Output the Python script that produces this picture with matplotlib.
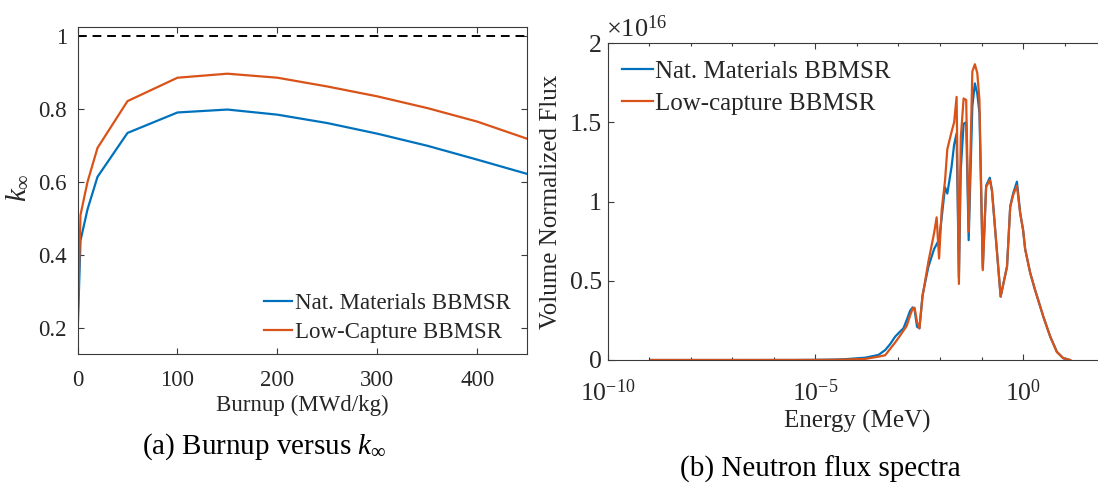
import numpy as np
import matplotlib
matplotlib.use("Agg")
import matplotlib.pyplot as plt
from matplotlib.ticker import FixedLocator, FuncFormatter

# ---- burnup curves ----
burnup = [0, 3, 10, 20, 50, 100, 150, 200, 250, 300, 350, 400, 450]
k_nat = [0.177, 0.44, 0.525, 0.614, 0.734, 0.79, 0.798, 0.784, 0.761, 0.732, 0.699, 0.661, 0.622]
k_low = [0.20, 0.51, 0.60, 0.693, 0.821, 0.885, 0.896, 0.885, 0.861, 0.834, 0.802, 0.765, 0.718]

# ---- neutron flux spectra (energy in MeV, flux in units of 1e16) ----
energy = [1.12e-9, 1e-7, 3.16e-6, 1e-5, 3.16e-5, 5.1e-5, 1.58e-4, 3.3e-4, 4.8e-4,
          6.3e-4, 8.3e-4, 1.1e-3, 1.32e-3, 1.58e-3, 1.9e-3, 2.2e-3, 2.45e-3,
          2.8e-3, 3.2e-3, 3.8e-3, 5.25e-3, 7.2e-3, 8.3e-3, 9.5e-3, 1.1e-2,
          1.32e-2, 1.5e-2, 1.9e-2, 2.19e-2, 2.51e-2, 2.85e-2, 3.16e-2, 3.7e-2,
          4.27e-2, 4.9e-2, 6.0e-2, 6.9e-2, 7.9e-2, 8.9e-2, 0.107, 0.129, 0.158,
          0.178, 0.288, 0.41, 0.49, 0.575, 0.71, 0.85, 1.0, 1.12, 1.48, 1.95,
          3.1, 4.5, 6.5, 9.3, 13.5]
flux_nat = [0, 0, 0.0003, 0.001, 0.003, 0.005, 0.0145, 0.032, 0.063,
            0.10, 0.147, 0.18, 0.20, 0.252, 0.31, 0.332, 0.315,
            0.21, 0.20, 0.41, 0.588, 0.70, 0.73, 0.76, 0.90,
            1.09, 1.05, 1.22, 1.36, 1.43, 0.52, 1.20, 1.49,
            1.50, 0.756, 1.60, 1.745, 1.68, 1.56, 0.58, 1.10, 1.15,
            1.07, 0.40, 0.59, 0.97, 1.05, 1.125, 0.93, 0.82, 0.70, 0.55, 0.44,
            0.27, 0.147, 0.052, 0.011, 0]
flux_low = [0, 0, 0.0001, 0.0005, 0.0015, 0.003, 0.007, 0.021, 0.03,
            0.07, 0.11, 0.155, 0.185, 0.215, 0.28, 0.325, 0.33,
            0.24, 0.20, 0.40, 0.62, 0.80, 0.90, 0.64, 0.95,
            1.13, 1.33, 1.44, 1.50, 1.66, 0.48, 1.40, 1.65,
            1.64, 0.81, 1.82, 1.866, 1.81, 1.64, 0.567, 1.092, 1.135,
            1.07, 0.40, 0.588, 0.966, 1.04, 1.10, 0.925, 0.82, 0.70, 0.55, 0.44,
            0.27, 0.147, 0.05, 0.011, 0]

BLUE = "#0072BD"
ORANGE = "#D95319"
AX_COLOR = "#3a3a3a"
TXT = "#262626"

plt.rcParams["font.family"] = ["Liberation Serif", "DejaVu Serif"]
plt.rcParams["mathtext.fontset"] = "custom"
plt.rcParams["mathtext.rm"] = "Liberation Serif"
plt.rcParams["mathtext.it"] = "Liberation Serif:italic"
plt.rcParams["axes.unicode_minus"] = False

W, H = 1098, 484
fig = plt.figure(figsize=(W / 100, H / 100), dpi=100)


def px_axes(x0, x1, y0, y1):
    return fig.add_axes([x0 / W, 1 - y1 / H, (x1 - x0) / W, (y1 - y0) / H])


def style(ax, fs, xpad, ypad):
    for s in ax.spines.values():
        s.set_color(AX_COLOR)
        s.set_linewidth(0.8)
    ax.tick_params(which="both", direction="in", top=True, right=True,
                   color=AX_COLOR, labelcolor=TXT, labelsize=fs, width=0.8)
    ax.tick_params(which="major", length=4)
    ax.tick_params(which="minor", length=2.2)
    ax.tick_params(axis="x", pad=xpad)
    ax.tick_params(axis="y", pad=ypad)


# ---- (a) burnup versus k_inf ----
ax1 = px_axes(77.5, 527.3, 26.5, 354.3)
ax1.plot(burnup, k_nat, color=BLUE, lw=1.6, label="Nat. Materials BBMSR")
ax1.plot(burnup, k_low, color=ORANGE, lw=1.6, label="Low-Capture BBMSR")
ax1.axhline(1.0, color="black", lw=1.4, ls=(0, (4.5, 3)))
ax1.set_xlim(0, 450)
ax1.set_ylim(0.129, 1.025)
ax1.set_xticks([0, 100, 200, 300, 400])
ax1.set_yticks([0.2, 0.4, 0.6, 0.8, 1.0])
ax1.yaxis.set_major_formatter(FuncFormatter(lambda v, _: "%g" % v))
style(ax1, 16.5, 11, 7.5)
ax1.set_xlabel("Burnup (MWd/kg)", fontsize=16.5, color=TXT, va="center")
ax1.xaxis.set_label_coords(0.5, -(405 - 354.3) / 327.8)
ax1.set_ylabel(r"$k_{\infty}$", fontsize=21, color=TXT, va="center")
ax1.yaxis.set_label_coords((18 - 77.5) / 449.8, (354.3 - 188) / 327.8)
leg1 = ax1.legend(loc="upper left", bbox_to_anchor=(264 / W, 1 - 293 / H),
                  bbox_transform=fig.transFigure, frameon=False, fontsize=16.5,
                  handlelength=1.2, handletextpad=0.15, borderpad=0,
                  borderaxespad=0, labelspacing=0.36)
for t in leg1.get_texts():
    t.set_color(TXT)

# ---- (b) neutron flux spectra ----
ax2 = px_axes(607.6, 1106.2, 43.0, 360.0)
ax2.plot(energy, flux_nat, color=BLUE, lw=1.6, label="Nat. Materials BBMSR")
ax2.plot(energy, flux_low, color=ORANGE, lw=1.6, label="Low-capture BBMSR")
ax2.set_xscale("log")
ax2.set_xlim(1e-10, 1e2)
ax2.set_ylim(0, 2)
ax2.xaxis.set_major_locator(FixedLocator([1e-10, 1e-5, 1e0]))
ax2.xaxis.set_minor_locator(FixedLocator([10.0 ** p for p in range(-10, 3)]))
ax2.xaxis.set_major_formatter(
    FuncFormatter(lambda v, _: r"$\mathregular{10^{%d}}$" % round(np.log10(v))))
ax2.xaxis.set_minor_formatter(FuncFormatter(lambda v, _: ""))
ax2.set_yticks([0, 0.5, 1, 1.5, 2])
ax2.yaxis.set_major_formatter(FuncFormatter(lambda v, _: "%g" % v))
style(ax2, 18.5, 14, 4)
ax2.set_xlabel("Energy (MeV)", fontsize=18, color=TXT, va="center")
ax2.xaxis.set_label_coords(0.5, -(421.7 - 360) / 317)
ax2.set_ylabel("Volume Normalized Flux", fontsize=18, color=TXT, va="center")
ax2.yaxis.set_label_coords((551 - 607.6) / 498.6, (360 - 202) / 317)
fig.text(606 / W, 1 - 29 / H, r"$\times\mathregular{10^{16}}$", fontsize=19,
         color=TXT, ha="left", va="center")
leg2 = ax2.legend(loc="upper left", bbox_to_anchor=(622 / W, 1 - 60 / H),
                  bbox_transform=fig.transFigure, frameon=False, fontsize=18,
                  handlelength=1.25, handletextpad=0.08, borderpad=0,
                  borderaxespad=0, labelspacing=0.4)
for t in leg2.get_texts():
    t.set_color(TXT)

# ---- captions ----
fig.text(264 / W, 1 - 447 / H, r"(a) Burnup versus $k_{\infty}$", fontsize=21,
         ha="center", va="center", color="black")
fig.text(820 / W, 1 - 469 / H, "(b) Neutron flux spectra", fontsize=21,
         ha="center", va="center", color="black")

fig.savefig("out.png", dpi=100)
